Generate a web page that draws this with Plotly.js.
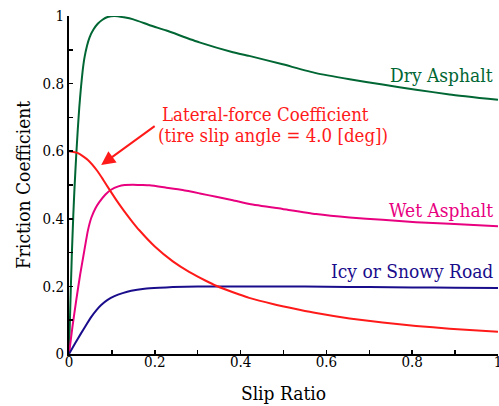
<!DOCTYPE html>
<html>
<head>
<meta charset="utf-8">
<script src="https://cdn.plot.ly/plotly-3.0.1.min.js"></script>
<style>html,body{margin:0;padding:0;background:#fff;}#chart{width:499px;height:406px;}</style>
</head>
<body>
<div id="chart"></div>
<script>
// ---- data ----
const dryX = [0, 0.003, 0.0065, 0.01, 0.0128, 0.0165, 0.0205, 0.024, 0.028, 0.032, 0.036, 0.042, 0.048, 0.057, 0.067, 0.078, 0.09, 0.106, 0.128, 0.15, 0.19, 0.227, 0.304, 0.382, 0.42, 0.498, 0.576, 0.654, 0.731, 0.809, 0.887, 1.0];
const dryY = [0, 0.14, 0.29, 0.41, 0.49, 0.58, 0.665, 0.73, 0.79, 0.84, 0.876, 0.912, 0.937, 0.96, 0.977, 0.989, 0.997, 1.0, 0.996, 0.99, 0.972, 0.957, 0.922, 0.893, 0.882, 0.857, 0.831, 0.813, 0.797, 0.782, 0.768, 0.752];

const wetX = [0, 0.008, 0.017, 0.026, 0.036, 0.044, 0.052, 0.062, 0.071, 0.085, 0.098, 0.115, 0.13, 0.149, 0.17, 0.188, 0.227, 0.265, 0.305, 0.343, 0.382, 0.421, 0.498, 0.576, 0.654, 0.731, 0.809, 0.887, 1.0];
const wetY = [0, 0.08, 0.16, 0.235, 0.308, 0.365, 0.403, 0.432, 0.45, 0.472, 0.486, 0.496, 0.5, 0.501, 0.5, 0.499, 0.492, 0.485, 0.475, 0.465, 0.455, 0.444, 0.429, 0.414, 0.404, 0.397, 0.39, 0.385, 0.378];

const icyX = [0, 0.014, 0.028, 0.04, 0.052, 0.064, 0.075, 0.09, 0.106, 0.125, 0.145, 0.176, 0.21, 0.242, 0.3, 0.343, 0.4, 0.5, 0.6, 0.7, 0.8, 0.9, 1.0];
const icyY = [0, 0.031, 0.061, 0.086, 0.11, 0.13, 0.145, 0.16, 0.171, 0.18, 0.187, 0.193, 0.196, 0.198, 0.2, 0.2, 0.2, 0.2, 0.199, 0.198, 0.197, 0.196, 0.195];

const latX = [0, 0.02, 0.044, 0.067, 0.08, 0.094, 0.11, 0.129, 0.149, 0.164, 0.2, 0.242, 0.28, 0.32, 0.343, 0.397, 0.42, 0.475, 0.537, 0.576, 0.654, 0.731, 0.809, 0.887, 1.0];
const latY = [0.6, 0.595, 0.574, 0.54, 0.515, 0.487, 0.456, 0.422, 0.389, 0.366, 0.318, 0.274, 0.243, 0.216, 0.202, 0.176, 0.166, 0.148, 0.131, 0.121, 0.105, 0.093, 0.083, 0.075, 0.066];

const tickVals = [0, 0.2, 0.4, 0.6, 0.8, 1];
const tickText = ["0", "0.2", "0.4", "0.6", "0.8", "1"];

const labels = {
  dry: "Dry Asphalt",
  wet: "Wet Asphalt",
  icy: "Icy or Snowy Road",
  lat1: "Lateral-force Coefficient",
  lat2: "(tire slip angle = 4.0 [deg])"
};
const xTitle = "Slip Ratio";
const yTitle = "Friction Coefficient";

// ---- styles ----
const C_DRY = "#006633", C_WET = "#e8007f", C_ICY = "#1a0d8c", C_LAT = "#ff1a1a";
const FONT = "DejaVu Serif Condensed, DejaVu Serif, serif";

function tr(x, y, c) {
  return {x: x, y: y, type: "scatter", mode: "lines",
          line: {color: c, width: 2, shape: "spline", smoothing: 0.5},
          hoverinfo: "skip"};
}

const data = [tr(dryX, dryY, C_DRY), tr(wetX, wetY, C_WET), tr(icyX, icyY, C_ICY), tr(latX, latY, C_LAT)];

const axisCommon = {
  range: [0, 1], showgrid: false, zeroline: false,
  showline: true, linecolor: "#000", linewidth: 2,
  ticks: "inside", ticklen: 4, tickwidth: 1.5, tickcolor: "#000",
  tickvals: tickVals, ticktext: tickText, ticklabeloverflow: "allow",
  minor: {dtick: 0.1, tick0: 0, ticks: "inside", ticklen: 4, tickwidth: 1.5, tickcolor: "#000", showgrid: false},
  tickfont: {family: FONT, size: 15, color: "#000"}
};
const layout = {
  width: 499, height: 406,
  margin: {l: 69, r: 1, t: 16, b: 52},
  paper_bgcolor: "#fff", plot_bgcolor: "#fff",
  showlegend: false,
  font: {family: FONT, color: "#000"},
  xaxis: Object.assign({}, axisCommon, {
    ticklabelstandoff: -7,
    title: {text: xTitle, font: {family: FONT, size: 19, color: "#000"}, standoff: 17}
  }),
  yaxis: Object.assign({}, axisCommon, {
    title: {text: yTitle, font: {family: FONT, size: 19, color: "#000"}, standoff: 7}
  }),
  annotations: [
    {x: 0.992, y: 0.825, xref: "x", yref: "y", text: labels.dry, showarrow: false, xanchor: "right", yanchor: "middle", font: {family: FONT, size: 19, color: C_DRY}},
    {x: 0.992, y: 0.427, xref: "x", yref: "y", text: labels.wet, showarrow: false, xanchor: "right", yanchor: "middle", font: {family: FONT, size: 19, color: C_WET}},
    {x: 0.992, y: 0.246, xref: "x", yref: "y", text: labels.icy, showarrow: false, xanchor: "right", yanchor: "middle", font: {family: FONT, size: 19, color: C_ICY}},
    {x: 0.212, y: 0.71, xref: "x", yref: "y", text: labels.lat1, showarrow: false, xanchor: "left", yanchor: "middle", font: {family: FONT, size: 18.5, color: C_LAT}},
    {x: 0.202, y: 0.645, xref: "x", yref: "y", text: labels.lat2, showarrow: false, xanchor: "left", yanchor: "middle", font: {family: FONT, size: 18.5, color: C_LAT}},
    {x: 0.075, y: 0.559, xref: "x", yref: "y", text: "", showarrow: true, ax: 55, ay: -40,
     arrowhead: 2, arrowsize: 1.4, arrowwidth: 2, arrowcolor: C_LAT, standoff: 0, startstandoff: 0}
  ]
};

Plotly.newPlot("chart", data, layout, {staticPlot: true, displayModeBar: false});
</script>
</body>
</html>
